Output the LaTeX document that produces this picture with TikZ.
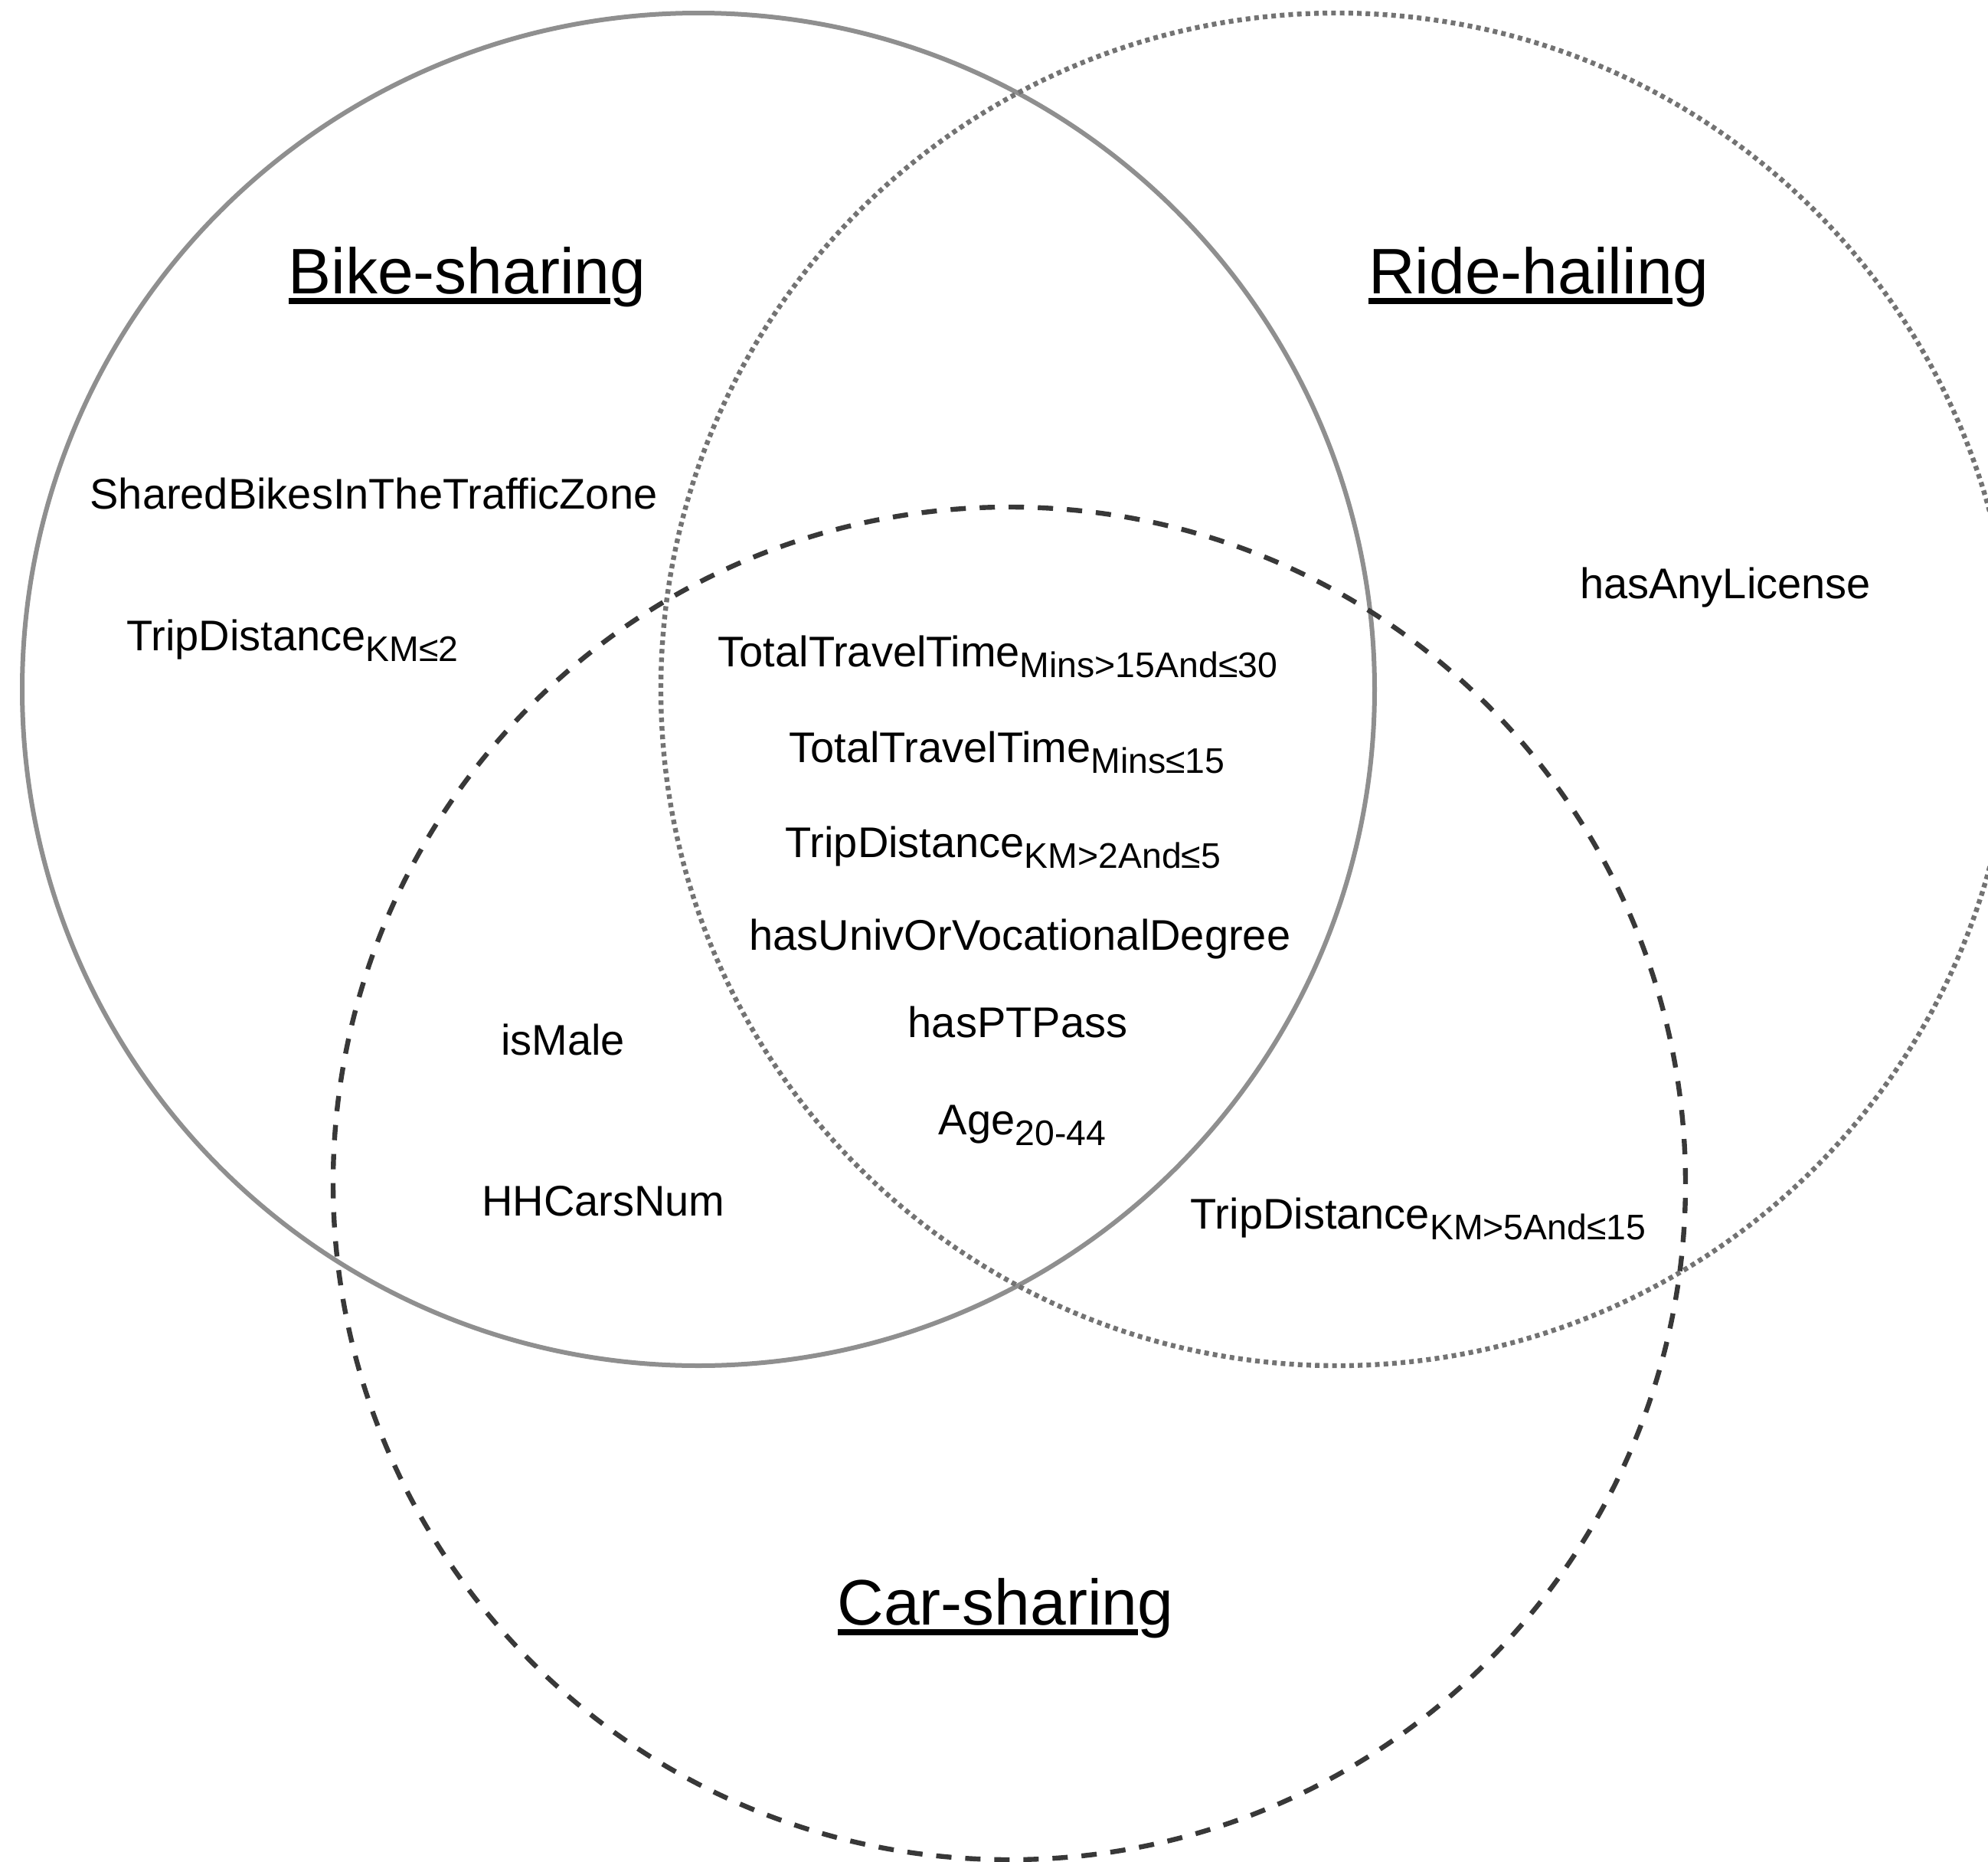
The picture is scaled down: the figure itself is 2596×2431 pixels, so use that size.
\documentclass[tikz,border=0pt]{standalone}
\usepackage{fontspec}
\setmainfont{Liberation Sans}[Ligatures={NoCommon}]
\definecolor{bikegray}{gray}{0.56}
\definecolor{ridegray}{gray}{0.45}
\definecolor{cardark}{gray}{0.22}
% lowered, smaller subscript text
\newcommand\lowsub[1]{\raisebox{-3.5pt}{\fontsize{11.6}{12}\selectfont #1}}
% heading with an underline that stops before the final descender
\newsavebox\headbox
\newcommand\ulhead[2]{\sbox\headbox{#1}\rlap{\rule[-3.4pt]{\wd\headbox}{1.9pt}}\usebox\headbox#2}
\begin{document}
\begin{tikzpicture}[x=0.25pt,y=-0.25pt,
  bikering/.style={draw=bikegray,line width=1.5pt},
  ridering/.style={draw=ridegray,line width=1.6pt,dash pattern=on 1.5pt off 1.3pt},
  carring/.style={draw=cardark,line width=1.6pt,dash pattern=on 5pt off 4.5pt},
  lbl/.style={anchor=base,inner sep=0pt,font=\fontsize{14}{16}\selectfont},
  head/.style={anchor=base,inner sep=0pt,font=\fontsize{21}{24}\selectfont}]
\useasboundingbox (0,0) rectangle (2596,2431);

% the three sets
\coordinate (bike) at (912,900);
\coordinate (ride) at (1746,900);
\coordinate (car) at (1318,1545);
\draw[bikering] (bike) circle[radius=220.75pt];
\draw[ridering] (ride) circle[radius=220.75pt];
\draw[carring] (car) circle[radius=220.75pt];

% set headings
\node[head] (hbike) at (610,383) {\ulhead{Bike-sharin}{g}};
\node[head] (hride) at (2009,383) {\ulhead{Ride-hailin}{g}};
\node[head] (hcar) at (1313,2121) {\ulhead{Car-sharin}{g}};

% bike-sharing only
\node[lbl] (zone) at (488,664) {SharedBikesInTheTrafficZone};
\node[lbl] (dshort) at (382,849) {TripDistance\lowsub{KM≤2}};

% ride-hailing only
\node[lbl] (lic) at (2253,781) {hasAnyLicense};

% bike-sharing and car-sharing
\node[lbl] (male) at (735,1377) {isMale};
\node[lbl] (cars) at (788,1587) {HHCarsNum};

% ride-hailing and car-sharing
\node[lbl] (dlong) at (1852,1604) {TripDistance\lowsub{KM>5And≤15}};

% all three
\node[lbl] (tmid) at (1303,870) {TotalTravelTime\lowsub{Mins>15And≤30}};
\node[lbl] (tshort) at (1315,995) {TotalTravelTime\lowsub{Mins≤15}};
\node[lbl] (dmid) at (1310,1119) {TripDistance\lowsub{KM>2And≤5}};
\node[lbl] (degree) at (1332,1240) {hasUnivOrVocationalDegree};
\node[lbl] (pass) at (1329,1354) {hasPTPass};
\node[lbl] (age) at (1335,1481) {Age\lowsub{20-44}};
\end{tikzpicture}
\end{document}
